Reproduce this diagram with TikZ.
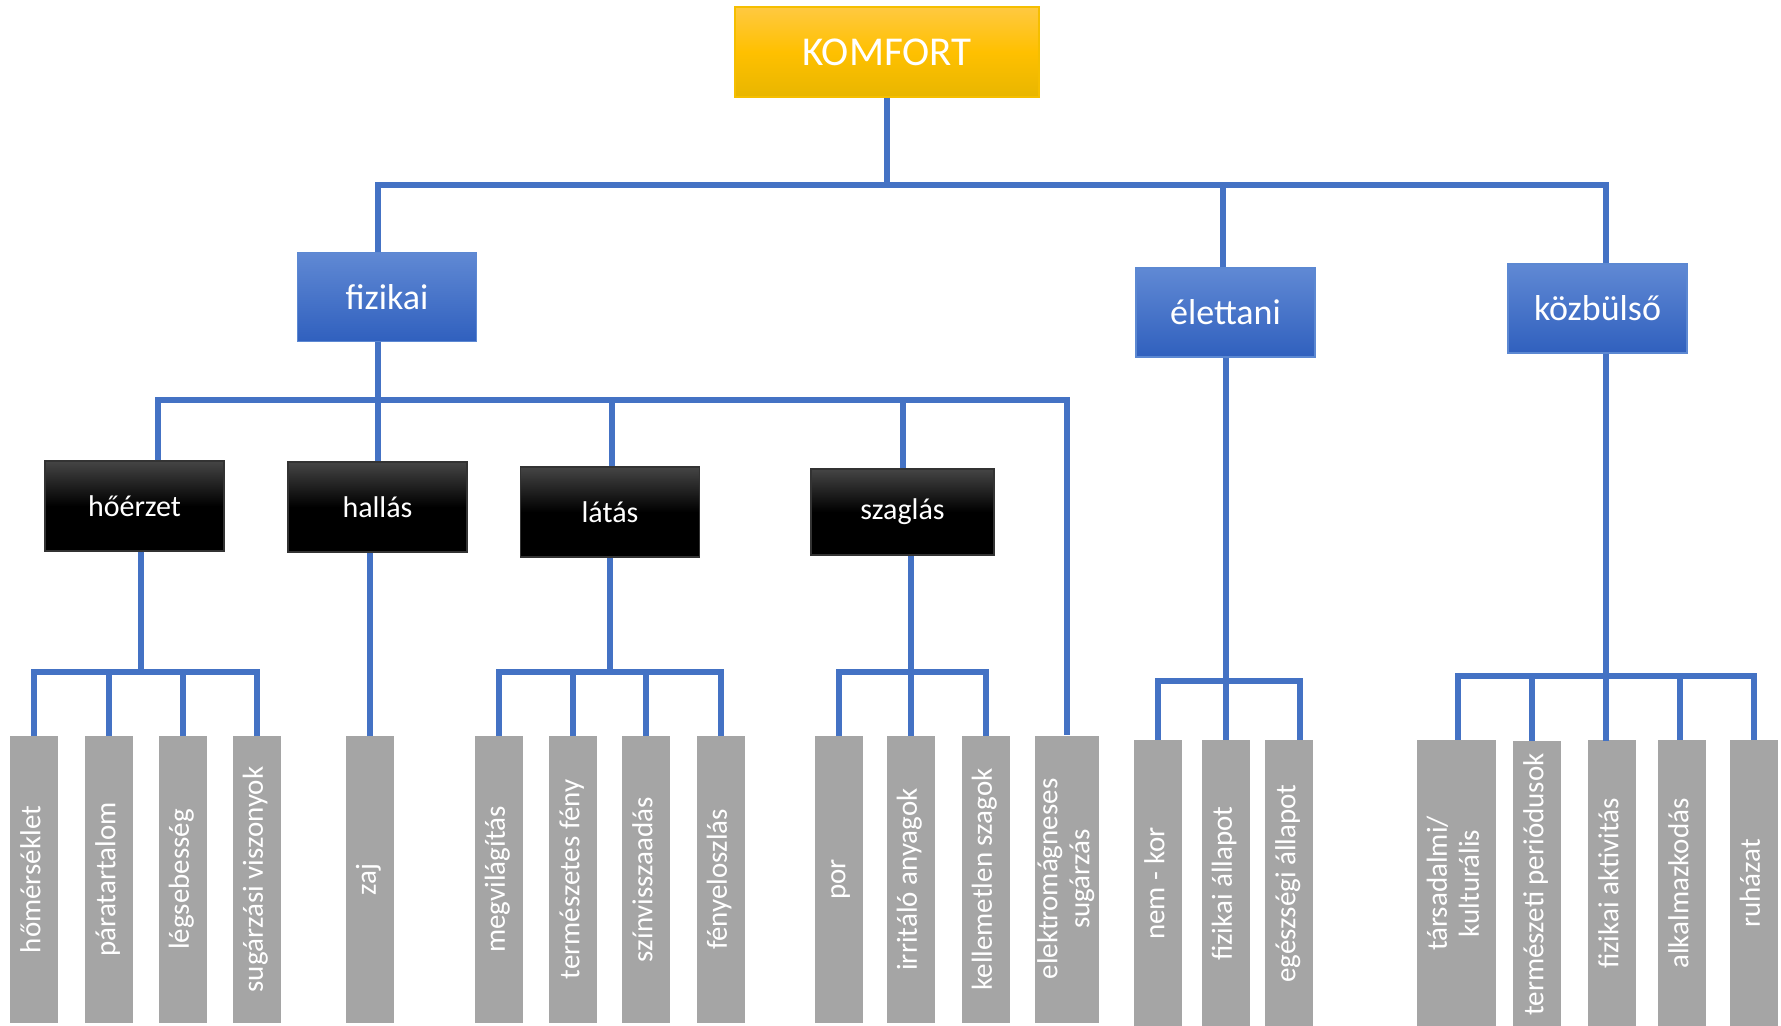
\documentclass[tikz,border=0pt]{standalone}
\usepackage{fontspec}
\setmainfont{Carlito}
\usepackage{graphicx}
\usetikzlibrary{calc}

\definecolor{linkblue}{HTML}{4472C4}
\definecolor{leafgray}{HTML}{A5A5A5}
\definecolor{goldtop}{HTML}{FFC941}
\definecolor{goldmid}{HTML}{FFC000}
\definecolor{goldbot}{HTML}{E8B600}
\definecolor{goldedge}{HTML}{F5BE00}
\definecolor{bluetop}{HTML}{6089D4}
\definecolor{bluebot}{HTML}{3060BE}
\definecolor{blueedge}{HTML}{5C88D2}

% vertical label for the grey columns
\newcommand{\vtext}[1]{\rotatebox{90}{\begin{tabular}{@{}c@{}}#1\end{tabular}}}

\begin{document}
\begin{tikzpicture}[
    x=0.5pt, y=-0.5pt,
    link/.style={draw=linkblue, line width=3pt},
    title/.style={top color=goldtop, bottom color=goldbot, middle color=goldmid,
      draw=goldedge, line width=0.75pt, text=white, minimum width=152pt,
      minimum height=45pt, inner sep=0pt, font=\fontsize{20.5}{24}\selectfont},
    category/.style={top color=bluetop, bottom color=bluebot, draw=blueedge,
      line width=0.6pt, text=white, minimum width=89.5pt, minimum height=44.5pt,
      inner sep=0pt, font=\fontsize{18}{21}\selectfont},
    aspect/.style={top color=black!73, bottom color=black, middle color=black,
      draw=black!80, line width=0.6pt, text=white, minimum width=89.5pt,
      minimum height=45pt, inner sep=0pt, font=\fontsize{15}{18}\selectfont},
    leaf/.style={fill=leafgray, text=white, minimum width=24pt,
      minimum height=143.5pt, inner sep=0pt, font=\fontsize{14.5}{16}\selectfont}
  ]
  \useasboundingbox (0,0) rectangle (1781,1026);

  % top of the tree
  \node[title] (komfort) at (887,52) {KOMFORT};

  \node[category] (fizikai) at (387,297) {fizikai};
  \node[category] (elettani) at (1225.5,312.5) {élettani};
  \node[category] (kozbulso) at (1597.5,308.5) {közbülső};

  % physical sub-areas
  \node[aspect] (hoerzet) at (134.5,506) {hőérzet};
  \node[aspect] (hallas) at (377.5,507) {hallás};
  \node[aspect] (latas) at (610,512) {látás};
  \node[aspect, minimum width=91.5pt, minimum height=43pt] (szaglas) at (902.5,512) {szaglás};

  % grey columns
  \node[leaf] (homerseklet) at (34,879.5) {\vtext{hőmérséklet}};
  \node[leaf] (paratartalom) at (109,879.5) {\vtext{páratartalom}};
  \node[leaf] (legsebesseg) at (182.5,879.5) {\vtext{légsebesség}};
  \node[leaf] (sugarzasi) at (256.5,879.5) {\vtext{sugárzási viszonyok}};
  \node[leaf] (zaj) at (369.5,879.5) {\vtext{zaj}};
  \node[leaf] (megvilagitas) at (498.5,879.5) {\vtext{megvilágítás}};
  \node[leaf] (termeszetes) at (573,879.5) {\vtext{természetes fény}};
  \node[leaf] (szinvissza) at (646,879.5) {\vtext{színvisszaadás}};
  \node[leaf] (fenyeloszlas) at (720.5,879.5) {\vtext{fényeloszlás}};
  \node[leaf] (por) at (839,879.5) {\vtext{por}};
  \node[leaf] (irritalo) at (910.5,879.5) {\vtext{irritáló anyagok}};
  \node[leaf] (kellemetlen) at (985.5,879.5) {\vtext{kellemetlen szagok}};
  \node[leaf, minimum width=30pt] (elektro) at (1067,879) {\vtext{elektromágneses\\sugárzás}};

  \node[leaf] (nemkor) at (1158,883.5) {\vtext{nem - kor}};
  \node[leaf] (fizallapot) at (1225.5,883.5) {\vtext{fizikai állapot}};
  \node[leaf] (egeszsegi) at (1289,883.5) {\vtext{egészségi állapot}};

  \node[leaf, minimum width=39.5pt] (tarsadalmi) at (1456.5,883.5) {\vtext{társadalmi/\\kulturális}};
  \node[leaf] (termeszeti) at (1537,884.5) {\vtext{természeti periódusok}};
  \node[leaf] (fizaktiv) at (1612,883.5) {\vtext{fizikai aktivitás}};
  \node[leaf] (alkalmazkodas) at (1682,883.5) {\vtext{alkalmazkodás}};
  \node[leaf] (ruhazat) at (1753.5,883.5) {\vtext{ruházat}};

  % first level
  \draw[link] (komfort.south) -- ++(0,88);
  \draw[link] ($(fizikai.north)+(-9,0)$) -- ++(0,-67) -| ($(kozbulso.north)+(8.5,0)$);
  \draw[link] ($(elettani.north)+(-2.5,0)$) -- ++(0,-83);

  % fizikai
  \draw[link] (hallas.north |- fizikai.south) -- (hallas.north);
  \draw[link] ($(hoerzet.north)+(23.5,0)$) -- ++(0,-60) -| (elektro.north);
  \draw[link] ($(latas.north)+(2,0)$) -- ++(0,-66);
  \draw[link] (szaglas.north) -- ++(0,-68);

  % hőérzet
  \draw[link] ($(hoerzet.south)+(6.5,0)$) -- ++(0,121);
  \draw[link] (homerseklet.north) -- ++(0,-64) -| (sugarzasi.north);
  \draw[link] (paratartalom.north) -- ++(0,-64);
  \draw[link] (legsebesseg.north) -- ++(0,-64);

  % hallás
  \draw[link] (zaj.north) -- (zaj.north |- hallas.south);

  % látás
  \draw[link] (latas.south) -- ++(0,115);
  \draw[link] (megvilagitas.north) -- ++(0,-64) -| (fenyeloszlas.north);
  \draw[link] (termeszetes.north) -- ++(0,-64);
  \draw[link] (szinvissza.north) -- ++(0,-64);

  % szaglás
  \draw[link] (irritalo.north) -- (irritalo.north |- szaglas.south);
  \draw[link] (por.north) -- ++(0,-64) -| (kellemetlen.north);

  % élettani
  \draw[link] (fizallapot.north) -- (fizallapot.north |- elettani.south);
  \draw[link] (nemkor.north) -- ++(0,-59) -| ($(egeszsegi.north)+(11,0)$);

  % közbülső
  \draw[link] ($(kozbulso.south)+(8.5,0)$) -- ++(0,387);
  \draw[link] ($(tarsadalmi.north)+(1.5,0)$) -- ++(0,-64) -| (ruhazat.north);
  \draw[link] ($(termeszeti.north)+(-5,0)$) -- ++(0,-64);
  \draw[link] ($(alkalmazkodas.north)+(-2,0)$) -- ++(0,-64);

\end{tikzpicture}
\end{document}
